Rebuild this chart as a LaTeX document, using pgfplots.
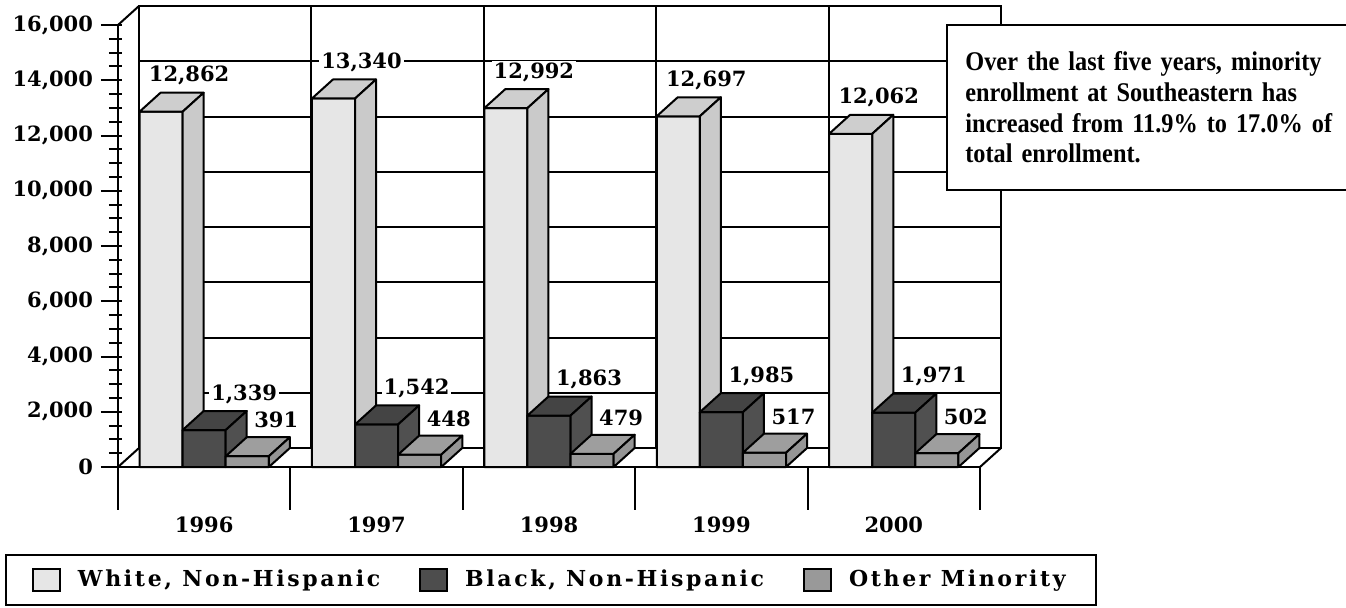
\documentclass[border=0pt]{standalone}
\usepackage{fontspec}
\setmainfont{Liberation Serif}
\newfontfamily\notefont{Liberation Serif}[WordSpace=0.6, FakeStretch=0.9]
\newfontfamily\numfont{DejaVu Serif}
\newfontfamily\legfont{DejaVu Serif}[LetterSpace=12]
\usepackage{pgfplots}
\usepackage{pgfplotstable}
\pgfplotsset{compat=1.18}

\definecolor{wfront}{HTML}{E6E6E6}
\definecolor{wtop}{HTML}{CECECE}
\definecolor{wside}{HTML}{CACACA}
\definecolor{bfront}{HTML}{4D4D4D}
\definecolor{btop}{HTML}{444444}
\definecolor{bside}{HTML}{505050}
\definecolor{ofront}{HTML}{999999}
\definecolor{otop}{HTML}{9E9E9E}
\definecolor{oside}{HTML}{959595}

\pgfplotstableread{
yr   white black other
1996 12862 1339  391
1997 13340 1542  448
1998 12992 1863  479
1999 12697 1985  517
2000 12062 1971  502
}\enrol

\pgfdeclareplotmark{void}{}

\pgfplotsset{
  % front face of each box, plus the value label
  frontbar/.style 2 args={forget plot, ybar, bar width=0.25, bar shift=0pt,
    draw=black, line width=1pt, fill=#1,
    nodes near coords,
    every node near coord/.append style={anchor=center, xshift=#2, yshift=18pt,
      fill=white, inner sep=1pt, text=black,
      font=\numfont\bfseries\fontsize{10.5pt}{12pt}\selectfont}},
  % the whole box again (front, top, side), so that later boxes cover earlier sides
  boxfaces/.style n args={3}{
    forget plot, only marks, mark=void, scatter,
    visualization depends on={rawy \as \ry},
    scatter/@pre marker code/.code={%
      \filldraw[fill=#1, draw=black, line width=1pt, line join=round]
        (-10.775pt,0pt) -- ++(axis direction cs:0,-\ry) -- ++(21.55pt,0pt) -- (10.775pt,0pt) -- cycle;
      \filldraw[fill=#2, draw=black, line width=1pt, line join=round]
        (-10.775pt,0pt) -- ++(10.5pt,9.5pt) -- ++(21.55pt,0pt) -- (10.775pt,0pt) -- cycle;
      \filldraw[fill=#3, draw=black, line width=1pt, line join=round]
        (10.775pt,0pt) -- ++(10.5pt,9.5pt) -- ++(axis direction cs:0,-\ry) -- ++(-10.5pt,-9.5pt) -- cycle;
    },
    scatter/@post marker code/.code={},
  },
  legsq/.style={legend image code/.code={%
    \draw[##1, draw=black, line width=1pt] (0pt,-5.5pt) rectangle (13.5pt,5.5pt);}},
}

\begin{document}
\begin{tikzpicture}
\path[use as bounding box] (0pt,0pt) rectangle (673pt,303.5pt);

% back wall
\begin{axis}[
    at={(69.5pt,79.5pt)}, anchor=south west,
    scale only axis, width=431pt, height=221pt,
    xmin=0, xmax=5, ymin=0, ymax=16000,
    xtick={0,1,2,3,4,5}, ytick={0,2000,...,16000},
    xticklabels={}, yticklabels={},
    major tick length=0pt,
    grid=major, major grid style={black, line width=1pt},
    axis line style={line width=1pt},
]
\end{axis}

% front: bars, axis, ticks
\begin{axis}[
    at={(59pt,70pt)}, anchor=south west,
    scale only axis, width=431pt, height=221pt,
    xmin=0, xmax=5, ymin=0, ymax=16000,
    clip=false,
    axis x line*=bottom, axis y line*=left,
    axis line style={line width=1pt},
    tick align=outside,
    major tick length=10.5pt, minor tick length=6.5pt,
    tick style={black, line width=1pt},
    ytick style={xshift=2pt},
    xtick style={draw=none},
    ytick={0,2000,...,16000}, minor y tick num=3,
    scaled y ticks=false,
    xtick={0.5,1.5,2.5,3.5,4.5},
    xticklabels={1996,1997,1998,1999,2000},
    /pgf/number format/.cd, assume math mode=true, 1000 sep={,},
    /pgfplots/.cd,
    ticklabel style={font=\numfont\bfseries\fontsize{10.5pt}{12pt}\selectfont},
    yticklabel style={xshift=1.5pt},
    xticklabel style={anchor=center, yshift=-18.5pt},
    legend columns=3,
    legend cell align=left,
    legend style={at={(-0.1311,-0.1968)}, anchor=north west,
      draw=black, line width=1pt, inner xsep=13pt, inner ysep=5.5pt,
      font=\legfont\bfseries\fontsize{11pt}{13pt}\selectfont,
      /tikz/every odd column/.append style={column sep=6.5pt},
      /tikz/every even column/.append style={column sep=17.5pt}},
]
\addplot[frontbar={wfront}{14pt}] table[x expr=\coordindex+0.25, y=white] {\enrol};
\addplot[boxfaces={wfront}{wtop}{wside}] table[x expr=\coordindex+0.25, y=white] {\enrol};
\addplot[frontbar={bfront}{20pt}] table[x expr=\coordindex+0.5, y=black] {\enrol};
\addplot[boxfaces={bfront}{btop}{bside}] table[x expr=\coordindex+0.5, y=black] {\enrol};
\addplot[frontbar={ofront}{14.5pt}] table[x expr=\coordindex+0.75, y=other] {\enrol};
\addplot[boxfaces={ofront}{otop}{oside}] table[x expr=\coordindex+0.75, y=other] {\enrol};

\addlegendimage{legsq, fill=wfront}
\addlegendimage{legsq, fill=bfront}
\addlegendimage{legsq, fill=ofront}
\legend{{White, Non-Hispanic},{Black, Non-Hispanic},{Other Minority}}

% floor and side edges of the box frame
\draw[line width=1pt] (axis cs:0,0) -- ++(10.5pt,9.5pt);
\draw[line width=1pt] (axis cs:0,16000) -- ++(10.5pt,9.5pt);
\draw[line width=1pt] (axis cs:5,0) -- ++(10.5pt,9.5pt);
\pgfplotsinvokeforeach{0,1,2,3,4,5}{
  \draw[line width=1pt] (axis cs:#1,0) -- ++(0pt,-21.5pt);
}
\end{axis}

% note box
\draw[line width=1pt, fill=white] (473.5pt,291pt) rectangle (690pt,208.5pt);
\node[anchor=base west, inner sep=0pt, text width=200pt, align=left,
      font=\notefont\bfseries\fontsize{13.5pt}{15.5pt}\selectfont]
  at (482.5pt,268.5pt)
  {Over the last five years, minority\\
   enrollment at Southeastern has\\
   increased from 11.9\% to 17.0\% of\\
   total enrollment.};
\end{tikzpicture}
\end{document}
